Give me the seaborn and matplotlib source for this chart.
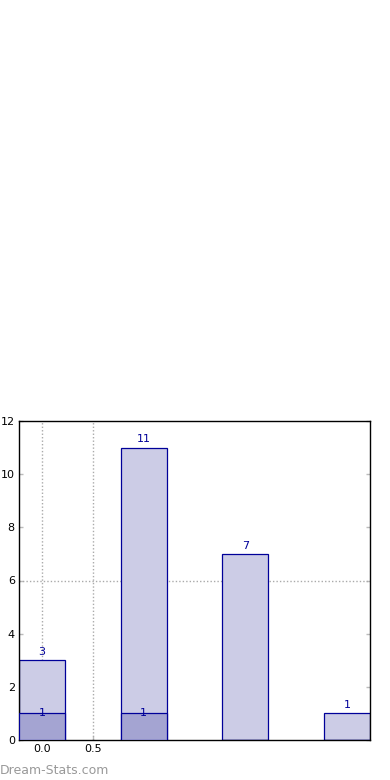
import matplotlib
matplotlib.use("Agg")
import matplotlib.pyplot as plt
import seaborn as sns
import pandas as pd

categories = ["A", "B", "C", "D"]
totals = [3, 11, 7, 1]
subset = [1, 1, 0, 0]
xtick_values = [0.0, 0.5]
xtick_labels = ["0.0", "0.5"]
ytick_values = [0, 2, 4, 6, 8, 10, 12]

sns.set_style("white")
plt.rcParams["font.family"] = ["DejaVu Sans"]

fig = plt.figure(figsize=(3.9, 7.8), dpi=100)
ax = fig.add_axes([19/390, 1-740/780, 351/390, 319/780])

df = pd.DataFrame({"cat": categories, "total": totals, "sub": subset})
edge = "#000099"
sns.barplot(data=df, x="cat", y="total", ax=ax, color="#ccccE6", saturation=1,
            width=0.45, edgecolor=edge, linewidth=0.9, zorder=2)
sns.barplot(data=df, x="cat", y="sub", ax=ax, color="#a4a4d2", saturation=1,
            width=0.45, edgecolor=edge, linewidth=0.9, zorder=3)

for i, (t, s) in enumerate(zip(totals, subset)):
    ax.text(i, t + 0.12, str(t), ha="center", va="bottom", color=edge, fontsize=8, zorder=5)
    if s > 0:
        ax.text(i, s, str(s), ha="center", va="center", color=edge, fontsize=8, zorder=5)

ax.set_xlim(-0.225, 3.225)
ax.set_ylim(0, 12)
ax.set_xticks(xtick_values)
ax.set_xticklabels(xtick_labels)
ax.set_yticks(ytick_values)
ax.set_xlabel("")
ax.set_ylabel("")

for xv in xtick_values:
    ax.axvline(xv, color="#aaaaaa", linestyle=(0, (1, 1.5)), linewidth=1, zorder=1)
ax.axhline(6, color="#aaaaaa", linestyle=(0, (1, 1.5)), linewidth=1, zorder=1)

ax.tick_params(axis="both", direction="in", length=3, color="#bbbbbb", labelsize=8,
               labelcolor="black", width=1)
ax.tick_params(axis="y", right=True, left=True, pad=3)
ax.tick_params(axis="x", bottom=True, pad=3)
for sp in ax.spines.values():
    sp.set_color("black")
    sp.set_linewidth(1)
    sp.set_visible(True)

fig.text(0.0, 1-770/780, "Dream-Stats.com", color="#999999", fontsize=9,
         ha="left", va="center")

fig.savefig("out.png", dpi=100)
